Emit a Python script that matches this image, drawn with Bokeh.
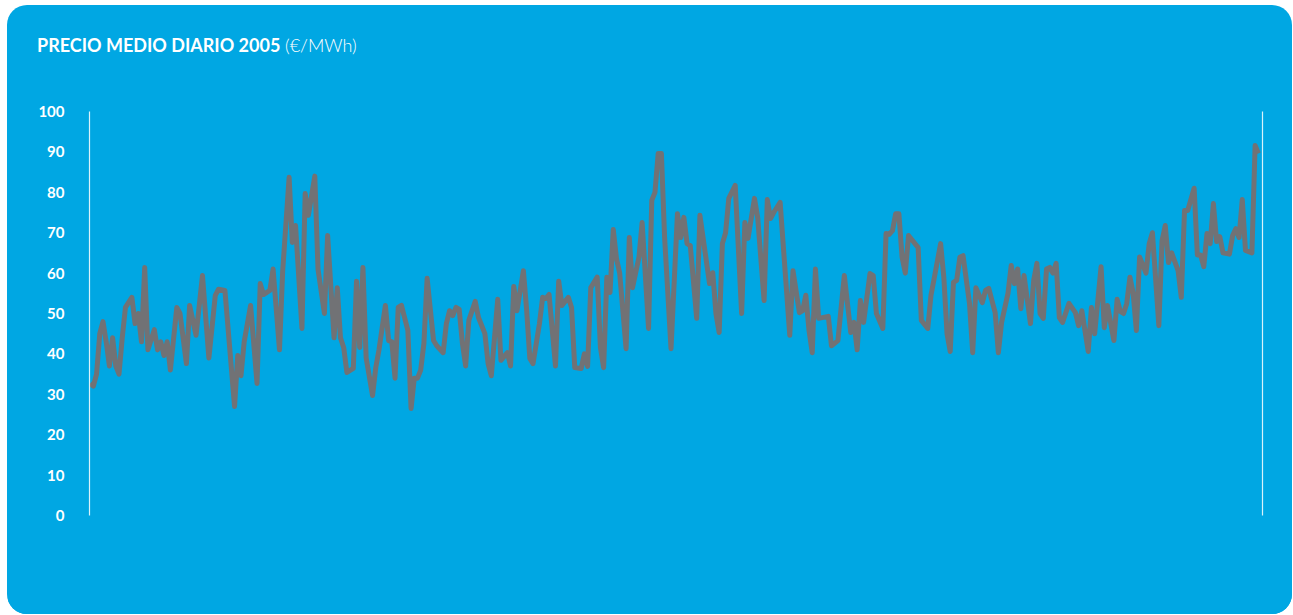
from bokeh.plotting import figure
from bokeh.models import Range1d, LinearAxis, FixedTicker, Div
from bokeh.layouts import column
from bokeh.embed import file_html
from bokeh.resources import INLINE

# ---- data (day of year 2005, daily mean price in EUR/MWh) ----
days = [0, 1, 2, 3, 4, 5, 6, 7, 8, 9, 10, 11, 13, 14, 15, 16, 17, 18, 20, 21,
        22, 23, 24, 25, 27, 28, 30, 31, 33, 35, 37, 39, 40, 42, 45, 46, 47, 48, 50, 52,
        53, 54, 56, 57, 59, 60, 62, 63, 64, 66, 67, 68, 70, 71, 73, 74, 76, 77, 78, 79,
        80, 82, 83, 84, 85, 86, 88, 89, 90, 92, 93, 94, 95, 96, 97, 99, 100, 101, 102, 103,
        104, 105, 107, 108, 110, 111, 112, 113, 114, 115, 116, 117, 118, 120, 121, 123, 124, 125, 127, 128,
        130, 131, 132, 133, 135, 136, 137, 138, 140, 141, 142, 143, 145, 146, 147, 149, 150, 151, 153, 154,
        155, 156, 158, 159, 160, 161, 162, 163, 164, 165, 167, 168, 169, 171, 172, 174, 175, 176, 177, 178,
        179, 181, 183, 184, 185, 186, 187, 189, 190, 193, 194, 195, 196, 197, 198, 199, 201, 203, 204, 205,
        207, 208, 210, 211, 212, 213, 215, 218, 219, 221, 222, 223, 224, 225, 226, 227, 230, 231, 233, 235,
        237, 238, 239, 240, 241, 243, 244, 245, 247, 248, 249, 250, 251, 252, 253, 254, 255, 258, 259, 261,
        262, 263, 265, 266, 267, 268, 269, 270, 271, 272, 274, 275, 276, 278, 279, 280, 282, 283, 284, 286,
        287, 288, 289, 290, 291, 293, 294, 295, 296, 297, 298, 299, 300, 301, 302, 303, 305, 307, 308, 309,
        311, 312, 313, 315, 316, 317, 319, 320, 321, 322, 323, 324, 325, 326, 327, 329, 330, 331, 333, 334,
        335, 336, 337, 339, 340, 341, 342, 344, 345, 346, 347, 348, 349, 350, 351, 352, 353, 355, 356, 357,
        358, 359, 360, 362, 363, 364]
prices = [32.7, 32, 35, 45, 48, 43, 37, 44, 37, 35, 44, 51.5, 54, 47.5, 50, 43, 61.4, 41, 46, 41,
          43, 39.6, 43, 36, 51.5, 50, 37.6, 52, 44.6, 59.4, 39, 54.5, 56, 55.7, 27, 39.6, 34.6, 43, 52, 32.7,
          57.4, 54.7, 55.7, 61, 41, 60.6, 83.7, 67.6, 71.8, 46.3, 79.7, 74.3, 84, 61, 50, 69.3, 44, 56.4, 44, 41.6,
          35.4, 36.4, 58, 41.6, 61.4, 39, 29.7, 36.6, 41, 52, 43.3, 43, 34, 51.5, 52, 45.8, 26.5, 34, 34, 36,
          42.6, 58.7, 43.3, 42, 40.3, 47.5, 50.7, 49.5, 51.5, 51, 42.6, 37, 48.3, 53, 49, 45, 37.6, 34.6, 53.5, 38.4,
          40.3, 37, 56.7, 50.7, 60.6, 51, 38.9, 37.6, 47.5, 54, 53.7, 54.7, 37, 58, 52, 54, 51.5, 36.6, 36.4, 40,
          36.9, 56.4, 59, 41.6, 36.6, 59, 55.2, 70.8, 63.6, 60, 41.3, 68.8, 56.4, 63.9, 72.5, 46.3, 78, 80, 89.6, 89.6,
          68.8, 41.3, 74.7, 68.8, 73.8, 67.3, 66.8, 48.8, 74.3, 57.4, 60.1, 50, 45.3, 67.3, 70, 78.5, 81.7, 50, 72.5, 68.6,
          78.5, 73.8, 53.2, 78.2, 73.5, 75, 77.5, 44.6, 60.6, 50.2, 50.7, 54.5, 45.8, 40.3, 61, 48.8, 49.3, 42, 43.3, 59.4,
          45.3, 47.8, 41, 53.2, 47.8, 59.9, 59.4, 50, 46.3, 69.8, 69.6, 70.5, 74.7, 74.7, 63.9, 60, 69.3, 66.3, 48.3, 46.3,
          54.5, 58.7, 67.3, 59, 45, 40.6, 57.7, 58.2, 63.9, 64.3, 52.5, 40.3, 56.4, 52.7, 55.7, 56.2, 50.2, 40.3, 47.8, 55,
          61.9, 57.4, 61, 51.2, 59.4, 47.5, 58.2, 62.4, 50, 48.8, 61, 61.4, 60, 62.4, 49, 47.8, 52.5, 50.2, 47, 50.7,
          40.6, 51.5, 45, 61.6, 46.5, 52, 43.3, 53.5, 50.5, 50, 52.5, 59, 55, 45.8, 64, 60, 67.3, 70, 47, 68,
          71.8, 62.6, 65, 60.6, 54, 75.5, 75.5, 81, 64.5, 64.5, 61.6, 69.8, 67.3, 77.2, 67.8, 69, 65, 64.7, 69.3, 71,
          68.8, 78.2, 65.6, 65, 91.6, 89.6]
y_ticks = [0, 10, 20, 30, 40, 50, 60, 70, 80, 90, 100]
title_bold = "PRECIO MEDIO DIARIO 2005"
title_unit = "(€/MWh)"

BLUE = "#00A7E3"
GREY = "#717275"
FONT = "Lato"

W, H = 1285, 609
DIV_H = 70

title = Div(
    text=(f'<span style="font-weight:700">{title_bold}</span> '
          f'<span style="font-weight:300">{title_unit}</span>'),
    width=W, height=DIV_H, margin=0,
    styles={"color": "white", "font-family": FONT, "font-size": "18px",
            "line-height": "18px", "padding-left": "30px", "padding-top": "31px",
            "box-sizing": "border-box", "white-space": "nowrap",
            "font-weight": "400"})

p = figure(width=W, height=H - DIV_H, output_backend="svg", toolbar_location=None,
           x_range=Range1d(-0.2, 365.3), y_range=Range1d(0, 100),
           x_axis_location=None,
           background_fill_color=BLUE, border_fill_color=BLUE,
           outline_line_color=None, margin=0,
           min_border_left=82, min_border_right=30,
           min_border_top=36, min_border_bottom=99)
p.styles = {"border-radius": "0 0 20px 20px", "overflow": "hidden"}
p.grid.visible = False

ax = p.yaxis[0]
ax.ticker = FixedTicker(ticks=y_ticks)
ax.axis_line_color = "white"
ax.axis_line_alpha = 0.85
ax.axis_line_width = 1.2
ax.major_tick_line_color = None
ax.minor_tick_line_color = None
ax.major_tick_out = 0
ax.major_tick_in = 0
ax.major_label_standoff = 25
ax.major_label_text_color = "white"
ax.major_label_text_font = FONT
ax.major_label_text_font_style = "bold"
ax.major_label_text_font_size = "15px"

# right-hand boundary line: an axis with no ticks and no labels
rax = LinearAxis(ticker=FixedTicker(ticks=[]))
rax.axis_line_color = "white"
rax.axis_line_alpha = 0.85
rax.axis_line_width = 1.2
rax.major_tick_line_color = None
rax.minor_tick_line_color = None
rax.major_tick_out = 0
rax.major_tick_in = 0
rax.major_label_standoff = 0
p.add_layout(rax, "right")

p.line(days, prices, line_color=GREY, line_width=5, line_join="round")

layout = column(title, p, spacing=0, margin=0, width=W, height=H,
                styles={"background-color": BLUE, "border-radius": "20px",
                        "margin-left": "7px", "margin-top": "5px"})

open("out.html", "w").write(file_html(layout, INLINE))
